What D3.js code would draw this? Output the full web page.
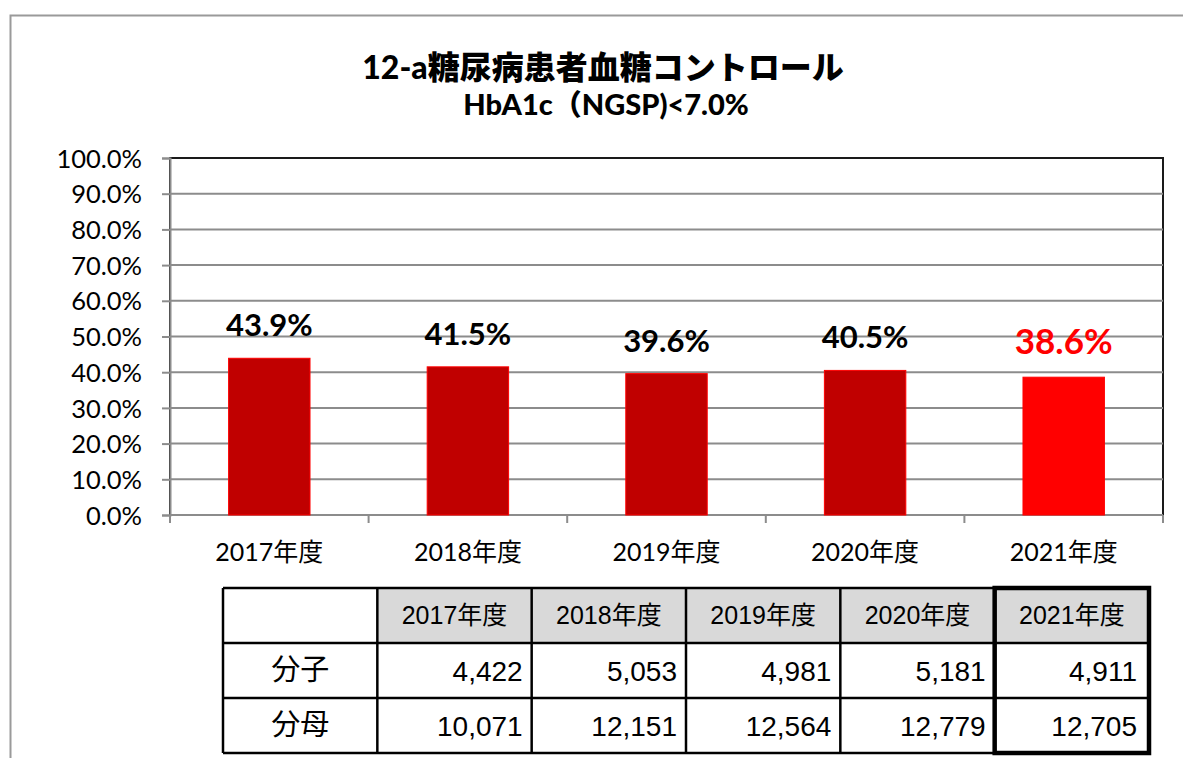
<!DOCTYPE html>
<html><head><meta charset="utf-8">
<script src="https://cdn.jsdelivr.net/npm/d3@7"></script>
<style>body{margin:0;background:#fff}svg{display:block}</style>
</head><body>
<script>
const years = ["2017年度","2018年度","2019年度","2020年度","2021年度"];
const rates = [0.439, 0.415, 0.396, 0.405, 0.386];
const numerators = [4422, 5053, 4981, 5181, 4911];
const denominators = [10071, 12151, 12564, 12779, 12705];
const rowLabels = ["分子","分母"];
const titleLine1 = "12-a糖尿病患者血糖コントロール";
const titleLine2 = "HbA1c（NGSP)<7.0%";
const yTicks = [0,0.1,0.2,0.3,0.4,0.5,0.6,0.7,0.8,0.9,1.0];

const W = 1183, H = 758;
const FONT = "Lato, 'Noto Sans CJK JP', sans-serif";
const TFONT = "'Liberation Sans', 'Noto Sans CJK JP', sans-serif";
const svg = d3.select("body").append("svg").attr("width", W).attr("height", H);
svg.append("rect").attr("width", W).attr("height", H).attr("fill", "#fff");

// outer chart border
svg.append("path").attr("d", `M10.5,${H} V15.5 H${W}`).attr("fill","none").attr("stroke","#9a9a9a").attr("stroke-width",2);

// titles
svg.append("text").attr("x", 603).attr("y", 79).attr("text-anchor","middle")
  .attr("font-family", FONT).attr("font-weight","900").attr("font-size",32).attr("fill","#000").text(titleLine1);
svg.append("text").attr("x", 606).attr("y", 115).attr("text-anchor","middle")
  .attr("font-family", FONT).attr("font-weight","900").attr("font-size",29).attr("fill","#000").text(titleLine2);

const plot = {l:170, r:1163, t:158, b:515};
const x = d3.scaleBand().domain(years).range([plot.l, plot.r]).padding(0);
const y = d3.scaleLinear().domain([0,1]).range([plot.b, plot.t]);

// plot border (black top/right)
svg.append("rect").attr("x",plot.l).attr("y",plot.t).attr("width",plot.r-plot.l).attr("height",plot.b-plot.t)
  .attr("fill","none").attr("stroke","#1a1a1a").attr("stroke-width",2);

// gridlines
svg.append("g").selectAll("line").data(yTicks.filter(d=>d>0 && d<1)).join("line")
  .attr("x1",plot.l).attr("x2",plot.r).attr("y1",d=>y(d)).attr("y2",d=>y(d))
  .attr("stroke","#8c8c8c").attr("stroke-width",2);

// y axis
const yAxis = svg.append("g").attr("transform",`translate(${plot.l},0)`)
  .call(d3.axisLeft(y).tickValues(yTicks).tickFormat(d3.format(".1%")).tickSize(8).tickPadding(20));
yAxis.select(".domain").attr("stroke","#8c8c8c").attr("stroke-width",2);
yAxis.selectAll(".tick line").attr("stroke","#8c8c8c").attr("stroke-width",2);
yAxis.selectAll(".tick text").attr("font-family",FONT).attr("font-size",25.5).attr("fill","#000").attr("dy","0.36em");

// x axis
const gx = svg.append("g");
gx.append("line").attr("x1",plot.l).attr("x2",plot.r).attr("y1",plot.b).attr("y2",plot.b)
  .attr("stroke","#8c8c8c").attr("stroke-width",2);
const bounds = years.map(d=>x(d)).concat([x(years[years.length-1])+x.bandwidth()]);
gx.selectAll(".xt").data(bounds).join("line").attr("class","xt")
  .attr("x1",d=>d).attr("x2",d=>d).attr("y1",plot.b).attr("y2",plot.b+8)
  .attr("stroke","#8c8c8c").attr("stroke-width",2);
gx.selectAll(".xl").data(years).join("text").attr("class","xl")
  .attr("x",d=>x(d)+x.bandwidth()/2).attr("y",561).attr("text-anchor","middle")
  .attr("font-family",FONT).attr("font-size",25).attr("fill","#000").text(d=>d);

// bars
const barW = x.bandwidth()*0.41;
const last = years.length-1;
svg.append("g").selectAll("rect").data(rates).join("rect")
  .attr("x",(d,i)=>x(years[i])+x.bandwidth()/2-barW/2)
  .attr("y",d=>y(d)).attr("width",barW).attr("height",d=>plot.b-y(d))
  .attr("fill",(d,i)=>i===last?"#FF0000":"#C00000")
  .attr("stroke","#FF0000").attr("stroke-width",1);

// data labels
svg.append("g").selectAll("text").data(rates).join("text")
  .attr("x",(d,i)=>x(years[i])+x.bandwidth()/2)
  .attr("y",(d,i)=>y(d)-(i===last?23:22))
  .attr("text-anchor","middle").attr("font-family",FONT).attr("font-weight","bold")
  .attr("font-size",(d,i)=>i===last?35:31)
  .attr("fill",(d,i)=>i===last?"#FF0000":"#000")
  .text(d=>d3.format(".1%")(d));

// table
const cols = [""].concat(years);
const tx = d3.scaleBand().domain(d3.range(cols.length)).range([223,1149]);
const ty = d3.scaleBand().domain([0,1,2]).range([588,753]);
const tg = svg.append("g");
// header fills
tg.selectAll(".hf").data(years).join("rect").attr("class","hf")
  .attr("x",(d,i)=>tx(i+1)).attr("y",ty(0)).attr("width",tx.bandwidth()).attr("height",ty.bandwidth())
  .attr("fill","#D9D9D9");
// grid lines
tg.selectAll(".vl").data(d3.range(cols.length+1)).join("line").attr("class","vl")
  .attr("x1",i=>223+i*tx.bandwidth()).attr("x2",i=>223+i*tx.bandwidth())
  .attr("y1",588).attr("y2",753).attr("stroke","#000").attr("stroke-width",2.5);
tg.selectAll(".hl").data(d3.range(4)).join("line").attr("class","hl")
  .attr("x1",223).attr("x2",1149).attr("y1",i=>588+i*ty.bandwidth()).attr("y2",i=>588+i*ty.bandwidth())
  .attr("stroke","#000").attr("stroke-width",2.5);
// thick highlight around last column
tg.append("rect").attr("x",tx(cols.length-1)).attr("y",588).attr("width",tx.bandwidth()).attr("height",753-588)
  .attr("fill","none").attr("stroke","#000").attr("stroke-width",4.5);
// header text
tg.selectAll(".ht").data(years).join("text").attr("class","ht")
  .attr("x",(d,i)=>tx(i+1)+tx.bandwidth()/2).attr("y",ty(0)+36).attr("text-anchor","middle")
  .attr("font-family",TFONT).attr("font-size",25).attr("fill","#000").text(d=>d);
// row labels
tg.selectAll(".rl").data(rowLabels).join("text").attr("class","rl")
  .attr("x",tx(0)+tx.bandwidth()/2).attr("y",(d,i)=>ty(i+1)+37).attr("text-anchor","middle")
  .attr("font-family",TFONT).attr("font-size",29).attr("fill","#000").text(d=>d);
// values
const fmt = d3.format(",");
[numerators, denominators].forEach((arr,r)=>{
  tg.selectAll(".v"+r).data(arr).join("text").attr("class","v"+r)
    .attr("x",(d,i)=>tx(i+1)+tx.bandwidth()-(i===last?12:9)).attr("y",ty(r+1)+38)
    .attr("text-anchor","end").attr("font-family",TFONT).attr("font-size",28).attr("fill","#000")
    .text(d=>fmt(d));
});
</script>
</body></html>
